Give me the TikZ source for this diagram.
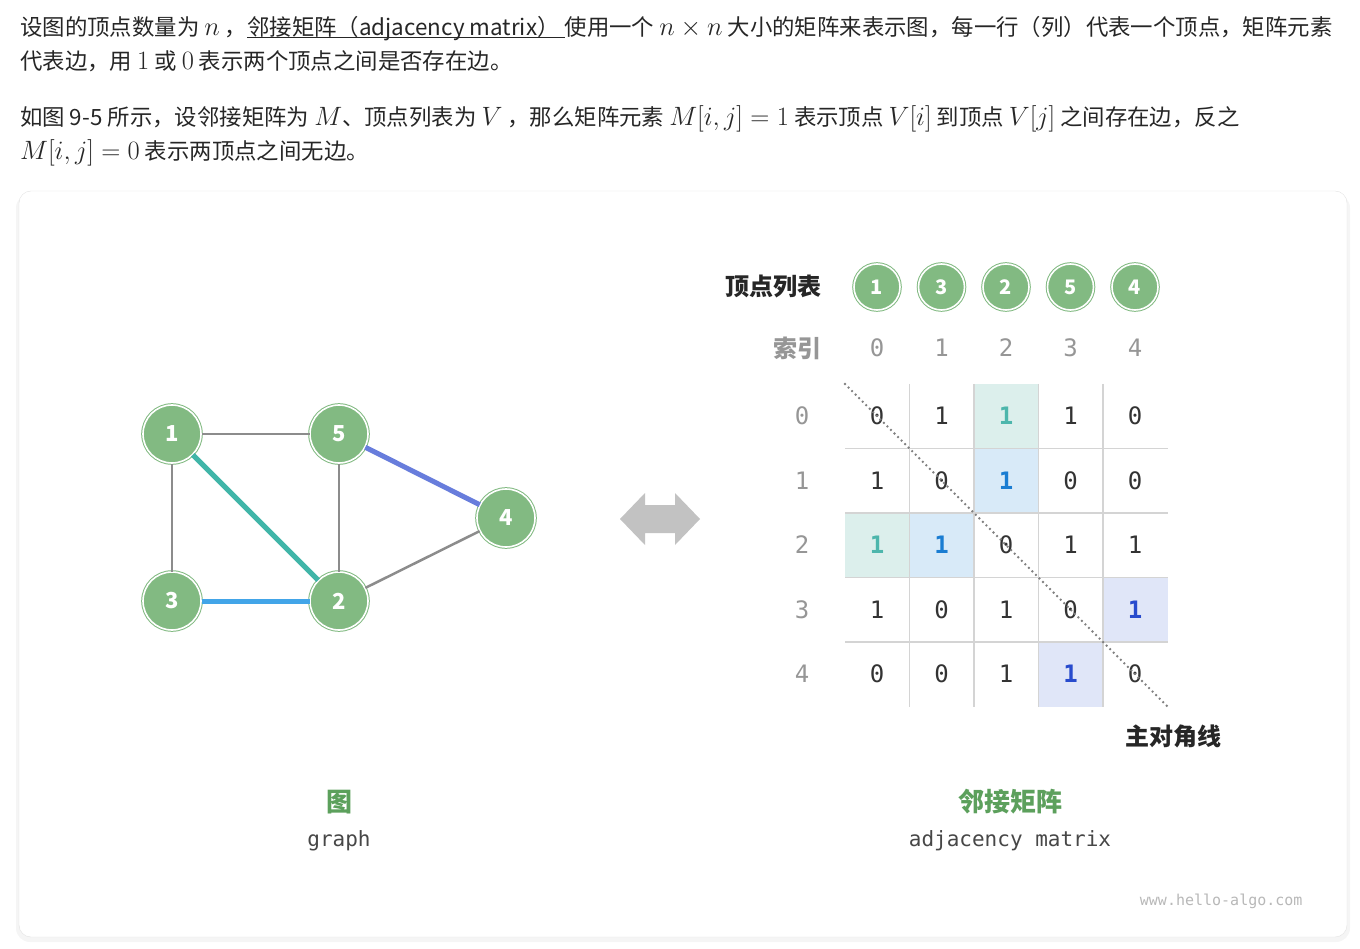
\RequirePackage{fix-cm}
\documentclass[tikz,border=0pt]{standalone}
\usepackage{fontspec}
\setmainfont{Noto Sans CJK SC}
\setmonofont{DejaVu Sans Mono}
\usepackage{tikz}
\usetikzlibrary{positioning}

\definecolor{txt}{RGB}{38,38,38}
\definecolor{vgreen}{RGB}{130,186,130}
\definecolor{tgreen}{RGB}{92,160,92}
\definecolor{edgegray}{RGB}{140,140,140}
\definecolor{eteal}{RGB}{64,181,168}
\definecolor{eblue}{RGB}{66,165,232}
\definecolor{eind}{RGB}{104,125,220}
\definecolor{tteal}{RGB}{77,182,172}
\definecolor{tblue}{RGB}{26,125,210}
\definecolor{tind}{RGB}{40,75,205}
\definecolor{fteal}{RGB}{220,239,236}
\definecolor{fblue}{RGB}{216,234,248}
\definecolor{find}{RGB}{224,230,248}
\definecolor{gridc}{RGB}{212,212,212}
\definecolor{idxgray}{RGB}{150,150,150}
\definecolor{cellc}{RGB}{51,51,51}

% inline math a bit larger than the text, underlined term
\newcommand{\km}[1]{{\fontsize{26.5}{26.5}\selectfont$#1$}}
\newcommand{\ulterm}[1]{\setbox0\hbox{#1}\rlap{\rule[-3pt]{\wd0}{1.2pt}}\box0}

\tikzset{
    para/.style={anchor=base west, inner sep=0pt, text=txt, font=\fontsize{22.4}{26}\selectfont},
    vtx/.style={circle, fill=vgreen, draw=vgreen, double=white, double distance=1.6pt, line width=1pt,
        minimum size=58pt, inner sep=0pt, text=white, font=\fontsize{22}{22}\selectfont\bfseries},
    lvtx/.style={vtx, minimum size=46pt, font=\fontsize{20}{20}\selectfont\bfseries},
    gedge/.style={draw=edgegray, line width=2.5pt},
    hedge/.style={line width=5pt},
    cell/.style={text=cellc, font=\ttfamily\fontsize{24}{24}\selectfont},
    nc/.style={},
    tc/.style={text=tteal, font=\ttfamily\bfseries\fontsize{24}{24}\selectfont},
    bc/.style={text=tblue, font=\ttfamily\bfseries\fontsize{24}{24}\selectfont},
    ic/.style={text=tind, font=\ttfamily\bfseries\fontsize{24}{24}\selectfont},
    idx/.style={text=idxgray, font=\ttfamily\fontsize{24}{24}\selectfont},
    head/.style={text=txt, font=\fontsize{24}{24}\selectfont\bfseries, inner sep=0pt},
    figtitle/.style={text=tgreen, font=\fontsize{26}{26}\selectfont\bfseries},
    figsub/.style={text=txt!85, font=\ttfamily\fontsize{21}{21}\selectfont}
}

\begin{document}
\begin{tikzpicture}[x=1pt, y=-1pt]
    \useasboundingbox (0,0) rectangle (1360,949);

    % text above the figure
    \node[para] (p1) at (20,35.5) {设图的顶点数量为 \km{n} ，\ulterm{邻接矩阵（adjacency matrix） }使用一个 \km{n\times n} 大小的矩阵来表示图，每一行（列）代表一个顶点，矩阵元素};
    \node[para] (p2) at (20,70) {代表边，用 \km{1} 或 \km{0} 表示两个顶点之间是否存在边。};
    \node[para] (p3) at (20,126) {如图 9-5 所示，设邻接矩阵为 \km{M}、顶点列表为 \km{V} ，那么矩阵元素 \km{M[i,j]=1} 表示顶点 \km{V[i]} 到顶点 \km{V[j]} 之间存在边，反之};
    \node[para] (p4) at (20,160) {\km{M[i,j]=0} 表示两顶点之间无边。};

    % card
    \fill[black!4, rounded corners=14] (16,194) rectangle (1350,942);
    \draw[black!11, fill=white, rounded corners=12] (19,191) rectangle (1347,937);

    % graph
    \node[vtx] (v1) at (172,434) {1};
    \node[vtx] (v5) at (339,434) {5};
    \node[vtx] (v3) at (172,601) {3};
    \node[vtx] (v2) at (339,601) {2};
    \node[vtx] (v4) at (506,518) {4};
    \draw[gedge] (v1) -- (v5);
    \draw[gedge] (v1) -- (v3);
    \draw[gedge] (v5) -- (v2);
    \draw[gedge] (v2) -- (v4);
    \draw[hedge, eteal] (v1) -- (v2);
    \draw[hedge, eblue] (v3) -- (v2);
    \draw[hedge, eind] (v5) -- (v4);

    % double arrow
    \fill[black!24] (620,519) -- (645,493) -- (645,505) -- (675,505) -- (675,493) -- (700,519)
        -- (675,545) -- (675,533) -- (645,533) -- (645,545) -- cycle;

    % vertex list and index
    \node[head, anchor=east] (vl) at (822,287) {顶点列表};
    \node[head, anchor=east, text=idxgray] (ix) at (822,348) {索引};
    \foreach \v [count=\k from 0] in {1,3,2,5,4}
        \node[lvtx] (l\k) at (877+64.5*\k,287) {\v};
    \foreach \k in {0,...,4} {
        \node[idx] (c\k) at (877+64.5*\k,348) {\k};
        \node[idx] (r\k) at (802,416+64.5*\k) {\k};
    }

    % matrix
    \foreach \ri/\ci/\cl in {0/2/fteal, 2/0/fteal, 1/2/fblue, 2/1/fblue, 3/4/find, 4/3/find}
        \fill[\cl] (845+64.5*\ci,384+64.5*\ri) rectangle ++(64.5,64.5);
    \foreach \k in {1,...,4} {
        \draw[gridc, line width=1.5pt] (845,384+64.5*\k) -- ++(322.5,0);
        \draw[gridc, line width=1.5pt] (845+64.5*\k,384) -- ++(0,322.5);
    }
    \foreach \v/\s [count=\k from 0] in {0/nc,1/nc,1/tc,1/nc,0/nc, 1/nc,0/nc,1/bc,0/nc,0/nc,
            1/tc,1/bc,0/nc,1/nc,1/nc, 1/nc,0/nc,1/nc,0/nc,1/ic, 0/nc,0/nc,1/nc,1/ic,0/nc} {
        \pgfmathtruncatemacro{\ri}{div(\k,5)}
        \pgfmathtruncatemacro{\ci}{mod(\k,5)}
        \node[cell, \s] (m\ri\ci) at (877+64.5*\ci,416+64.5*\ri) {\v};
    }
    \coordinate (d0) at (845,384);
    \coordinate (d1) at (1167.5,706.5);
    \draw[black!50, line width=2.6pt, line cap=round, dash pattern=on 0pt off 5pt] (d0) -- (d1);
    \node[head, anchor=east] (diag) at (1222,736) {主对角线};

    % captions
    \node[figtitle] (g1) at (339,802) {图};
    \node[figsub] (g2) at (339,841) {graph};
    \node[figtitle] (a1) at (1010,802) {邻接矩阵};
    \node[figsub] (a2) at (1010,841) {adjacency matrix};
    \node[anchor=east, text=black!28, font=\ttfamily\fontsize{15}{15}\selectfont] (www) at (1306,901) {www.hello-algo.com};
\end{tikzpicture}
\end{document}
